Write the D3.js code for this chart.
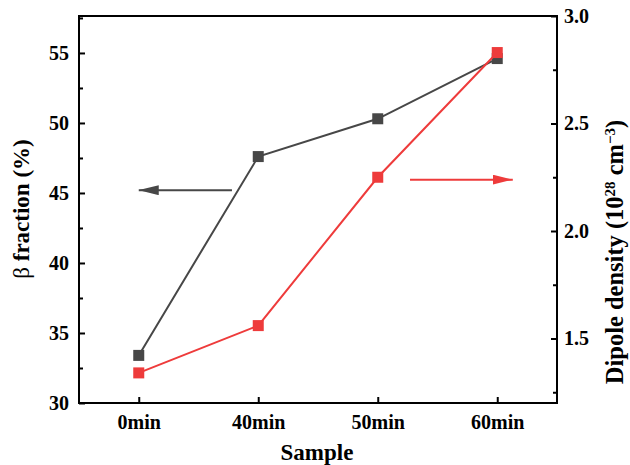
<!DOCTYPE html>
<html>
<head>
<meta charset="utf-8">
<script src="https://cdn.jsdelivr.net/npm/d3@7"></script>
<style>
  body { margin: 0; background: #fff; }
  text { font-family: "Liberation Serif", "Times New Roman", serif; font-weight: bold; }
</style>
</head>
<body>
<div id="chart-area"></div>
<script>
/*
*    dual axis chart: beta fraction and dipole density
*/

var samples = ["0min", "40min", "50min", "60min"];
var betaFraction = [33.4, 47.6, 50.3, 54.6];
var dipoleDensity = [1.34, 1.56, 2.25, 2.83];
var leftTicks = [30, 35, 40, 45, 50, 55];
var rightTicks = [1.5, 2.0, 2.5, 3.0];

var width = 630, height = 465;
var margin = { left: 79, right: 73, top: 16, bottom: 62 };
var black = "#474747", red = "#ee3b3b";

var svg = d3.select("#chart-area").append("svg")
    .attr("width", width)
    .attr("height", height);

var x = d3.scalePoint()
    .domain(samples)
    .range([margin.left, width - margin.right])
    .padding(0.5);

var yL = d3.scaleLinear()
    .domain([30, 57.64])
    .range([height - margin.bottom, margin.top]);

var yR = d3.scaleLinear()
    .domain([1.2, 3.0])
    .range([height - margin.bottom, margin.top]);

// frame
svg.append("rect")
    .attr("x", margin.left)
    .attr("y", margin.top)
    .attr("width", width - margin.left - margin.right)
    .attr("height", height - margin.top - margin.bottom)
    .attr("fill", "none")
    .attr("stroke", "#000")
    .attr("stroke-width", 2);

// axes, ticks point inward
var bottom = height - margin.bottom;
svg.append("g").attr("transform", "translate(0," + bottom + ")")
    .call(d3.axisBottom(x).tickSizeInner(-6).tickSizeOuter(0).tickPadding(12));

svg.append("g").attr("transform", "translate(" + margin.left + ",0)")
    .call(d3.axisLeft(yL).tickValues(leftTicks).tickSizeInner(-6).tickSizeOuter(0).tickPadding(10));

svg.append("g").attr("transform", "translate(" + margin.left + ",0)")
    .call(d3.axisLeft(yL).tickValues(leftTicks.map((d) => d + 2.5)).tickSize(-4).tickFormat(""));

svg.append("g").attr("transform", "translate(" + (width - margin.right) + ",0)")
    .call(d3.axisRight(yR).tickValues(rightTicks).tickSizeInner(-6).tickSizeOuter(0).tickPadding(7)
        .tickFormat(d3.format(".1f")));

svg.append("g").attr("transform", "translate(" + (width - margin.right) + ",0)")
    .call(d3.axisRight(yR).tickValues(rightTicks.map((d) => d - 0.25)).tickSize(-4).tickFormat(""));

svg.selectAll(".domain").remove();
svg.selectAll(".tick line").attr("stroke", "#000").attr("stroke-width", 2);
svg.selectAll(".tick text")
    .attr("fill", "#000")
    .style("font-size", "20px")
    .style("font-family", "Liberation Serif")
    .style("font-weight", "bold");

// axis titles
svg.append("text")
    .attr("x", 317).attr("y", 460)
    .attr("text-anchor", "middle")
    .style("font-size", "23px")
    .text("Sample");

svg.append("text")
    .attr("transform", "translate(29,209) rotate(-90)")
    .attr("text-anchor", "middle")
    .style("font-size", "23px")
    .html("<tspan style='font-weight:normal'>β</tspan> fraction (%)");

var rt = svg.append("text")
    .attr("transform", "translate(623,252) rotate(-90)")
    .attr("text-anchor", "middle")
    .style("font-size", "24.5px");
rt.append("tspan").text("Dipole density (10");
rt.append("tspan").attr("dy", -8).style("font-size", "15px").text("28");
rt.append("tspan").attr("dy", 8).text(" cm");
rt.append("tspan").attr("dy", -8).style("font-size", "15px").text("−3");
rt.append("tspan").attr("dy", 8).text(")");

// series
var series = [
    { values: betaFraction, y: yL, color: black },
    { values: dipoleDensity, y: yR, color: red }
];

series.forEach((s) => {
    var line = d3.line()
        .x((d, i) => x(samples[i]))
        .y((d) => s.y(d));

    svg.append("path")
        .datum(s.values)
        .attr("d", line)
        .attr("fill", "none")
        .attr("stroke", s.color)
        .attr("stroke-width", 2);

    svg.selectAll(null)
        .data(s.values)
        .enter()
        .append("rect")
        .attr("x", (d, i) => x(samples[i]) - 5.5)
        .attr("y", (d) => s.y(d) - 5.5)
        .attr("width", 11)
        .attr("height", 11)
        .attr("fill", s.color);
});

// arrows pointing to the matching axis
var defs = svg.append("defs");
[["arrowBlack", black], ["arrowRed", red]].forEach((a) => {
    defs.append("marker")
        .attr("id", a[0])
        .attr("viewBox", "0 0 20 10")
        .attr("refX", 20).attr("refY", 5)
        .attr("markerWidth", 20).attr("markerHeight", 10)
        .attr("markerUnits", "userSpaceOnUse")
        .attr("orient", "auto")
        .append("path")
        .attr("d", "M0,0 L20,5 L0,10 Z")
        .attr("fill", a[1]);
});

var step = x.step();
var arrows = [
    { from: x("0min") + 0.78 * step, to: x("0min"), y: yL(45.2), color: black, id: "arrowBlack" },
    { from: x("50min") + 0.27 * step, to: x("60min") + 0.13 * step, y: yL(45.95), color: red, id: "arrowRed" }
];

arrows.forEach((a) => {
    svg.append("line")
        .attr("x1", a.from).attr("y1", a.y)
        .attr("x2", a.to).attr("y2", a.y)
        .attr("stroke", a.color)
        .attr("stroke-width", 2)
        .attr("marker-end", "url(#" + a.id + ")");
});
</script>
</body>
</html>
